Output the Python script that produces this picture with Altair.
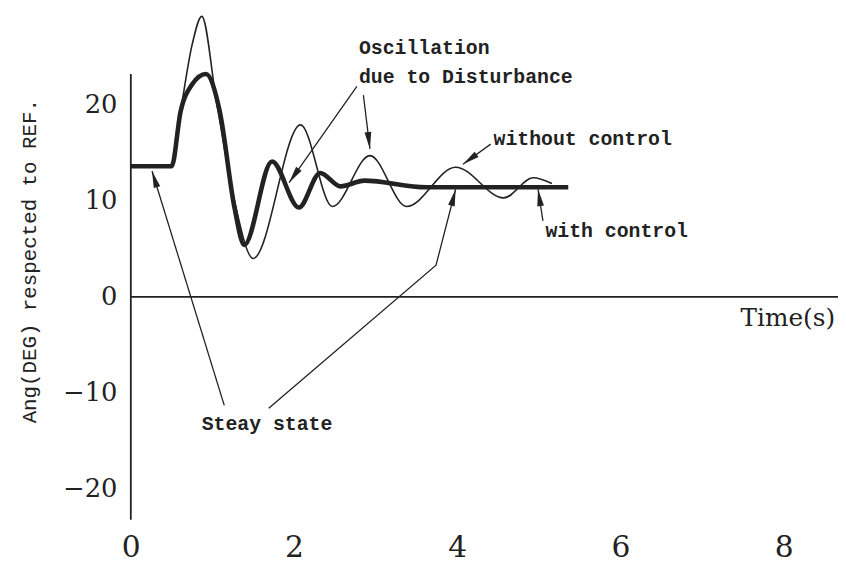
import math
import altair as alt
import pandas as pd

# ---------------- data ----------------
t_without = [0, 0.5, 0.61, 0.75, 0.87, 1.05, 1.27, 1.50, 2.08, 2.47, 2.93, 3.38, 3.98, 4.57, 4.93, 5.16]
a_without = [13.6, 13.6, 19.3, 26.2, 29.2, 20.3, 10.0, 4.0, 17.9, 9.4, 14.7, 9.4, 13.5, 10.3, 12.4, 11.8]

t_with = [0, 0.5, 0.61, 0.75, 0.92, 1.09, 1.27, 1.39, 1.73, 2.06, 2.32, 2.57, 2.86, 3.62, 5.36]
a_with = [13.6, 13.6, 19.3, 22.1, 23.2, 19.3, 9.3, 5.4, 14.1, 9.3, 12.9, 11.5, 12.1, 11.4, 11.4]

x_ticks = [0, 2, 4, 6, 8]
y_ticks = [-20, -10, 0, 10, 20]

# annotation texts and their anchor points (data units)
note_text = ["Oscillation", "due to Disturbance", "without control", "with control", "Steay state"]
note_t = [2.795, 2.795, 4.445, 5.08, 0.868]
note_y = [25.9, 22.9, 16.4, 6.8, -13.2]

# annotation arrows: id, point order, t, y (last point = arrow tip)
arrow_id = ["osc1", "osc1", "osc2", "osc2", "wo", "wo", "wi", "wi", "ss1", "ss1", "ss2", "ss2", "ss2"]
arrow_t = [2.77, 1.94, 2.85, 2.93, 4.41, 4.07, 5.05, 4.99, 1.145, 0.26, 1.69, 3.74, 3.98]
arrow_y = [21.9, 11.9, 21.0, 15.4, 15.9, 13.8, 7.9, 11.2, -11.3, 13.1, -11.6, 3.3, 11.2]

x_title = "Time(s)"
y_title = "Ang(DEG) respected to REF."

# ---------------- layout ----------------
W, H = 710, 497
X_DOM = [0, 8.617]
Y_DOM = [-21.86, 29.38]
kx = W / (X_DOM[1] - X_DOM[0])
ky = H / (Y_DOM[1] - Y_DOM[0])
INK = "#222222"
SERIF = "DejaVu Serif"
MONO = "Liberation Mono"

xs = alt.Scale(domain=X_DOM, nice=False, zero=False)
ys = alt.Scale(domain=Y_DOM, nice=False, zero=False)

x_axis = alt.Axis(values=x_ticks, grid=False, ticks=False, domain=False, title=None,
                  labelFont=SERIF, labelFontSize=30, labelPadding=26, labelColor=INK,
                  labelFlush=False, labelOverlap=False, labelFontWeight="normal")
y_axis = alt.Axis(values=y_ticks, grid=False, ticks=False, domain=False, title=y_title,
                  labelFont=SERIF, labelFontSize=26, labelPadding=14, labelColor=INK,
                  labelFlush=False, labelOverlap=False,
                  labelExpr="datum.value < 0 ? '\u2212' + abs(datum.value) : '' + datum.value",
                  titleFont=MONO, titleFontSize=21, titleFontWeight="normal", titleColor=INK,
                  titleX=-102, titleBaseline="middle", titleAngle=270)

X = alt.X("t:Q", scale=xs, axis=x_axis)
Y = alt.Y("y:Q", scale=ys, axis=y_axis)

# curves
df_wo = pd.DataFrame({"t": t_without, "y": a_without})
df_wi = pd.DataFrame({"t": t_with, "y": a_with})

thin = alt.Chart(df_wo).mark_line(interpolate="monotone", strokeWidth=1.6, color=INK).encode(x=X, y=Y)
thick = alt.Chart(df_wi).mark_line(interpolate="monotone", strokeWidth=4.6, color=INK).encode(x=X, y=Y)

# axis lines
vline = alt.Chart(pd.DataFrame({"t": [0], "y": [-23.2], "y2": [23.2]})).mark_rule(
    strokeWidth=1.8, color=INK).encode(x=X, y=Y, y2="y2:Q")
hline = alt.Chart(pd.DataFrame({"t": [0], "t2": [8.7], "y": [0]})).mark_rule(
    strokeWidth=1.6, color=INK).encode(x=X, x2="t2:Q", y=Y)

# arrows
df_ar = pd.DataFrame({"id": arrow_id, "t": arrow_t, "y": arrow_y})
df_ar["i"] = range(len(df_ar))
arrow_lines = alt.Chart(df_ar).mark_line(strokeWidth=1.3, color=INK).encode(
    x=X, y=Y, detail="id:N", order="i:Q")

heads = []
for aid in dict.fromkeys(arrow_id):
    sub = df_ar[df_ar["id"] == aid]
    (t1, y1), (t2, y2) = sub[["t", "y"]].values[-2], sub[["t", "y"]].values[-1]
    ang = math.degrees(math.atan2((t2 - t1) * kx, (y2 - y1) * ky)) % 360
    heads.append({"t": t2, "y": y2, "ang": ang})
df_heads = pd.DataFrame(heads)
arrow_heads = alt.Chart(df_heads).mark_point(
    shape="M0,0L0.4,2L-0.4,2Z", filled=True, size=290, opacity=1, color=INK, strokeWidth=0
).encode(x=X, y=Y, angle=alt.Angle("ang:Q", scale=None))

# annotation text
df_notes = pd.DataFrame({"t": note_t, "y": note_y, "txt": note_text})
notes = alt.Chart(df_notes).mark_text(
    align="left", baseline="middle", font=MONO, fontSize=20, fontWeight="bold", color=INK
).encode(x=X, y=Y, text="txt:N")

xt = alt.Chart(pd.DataFrame({"t": [8.63], "y": [-2.2], "txt": [x_title]})).mark_text(
    align="right", baseline="middle", font=SERIF, fontSize=25, color=INK
).encode(x=X, y=Y, text="txt:N")

chart = alt.layer(vline, hline, thin, thick, arrow_lines, arrow_heads, notes, xt).properties(
    width=W, height=H,
    padding={"left": 124, "top": 4, "right": 4, "bottom": 54},
    autosize=alt.AutoSizeParams(type="none"),
    background="white",
).configure_view(stroke=None)

chart.save("out.html", embed_options={"renderer": "svg", "actions": False})
